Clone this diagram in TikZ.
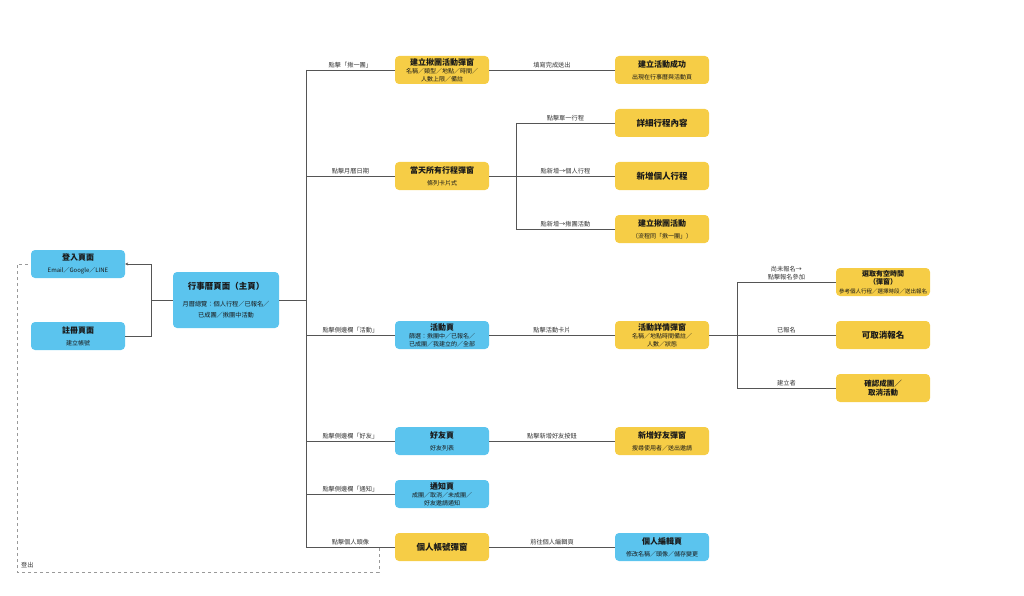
\documentclass[tikz,border=0pt]{standalone}
\usepackage{fontspec}
\setmainfont{Noto Sans CJK TC}
\usepackage{tikz}
\usetikzlibrary{
  arrows.meta,
}
\definecolor{skyb}{HTML}{5BC4EE}
\definecolor{sunny}{HTML}{F6CD46}
\definecolor{wire}{HTML}{555555}
\newcommand\ttl[2]{{\fontsize{8}{9}\selectfont\bfseries #1}\\[4pt]#2}
\newcommand\ttll[2]{{\fontsize{8}{9}\selectfont\bfseries #1}\\[0pt]#2}

\begin{document}
\begin{tikzpicture}[x=1pt, y=-1pt,
  card/.style={rounded corners=4pt, minimum width=94pt, minimum height=28pt,
    align=center, inner sep=1pt, text=black!90,
    font=\fontsize{6}{8}\selectfont},
  blue/.style={card, fill=skyb},
  yellow/.style={card, fill=sunny},
  link/.style={draw=wire, line width=0.8pt},
  lbl/.style={above, inner sep=2pt, text=black!80, align=center,
    font=\fontsize{6.2}{7.5}\selectfont},
  logout/.style={draw=black!40, line width=0.8pt, dash pattern=on 3pt off 3pt},
]
\useasboundingbox (0,0) rectangle (1024,596);

% left side
\node[blue] (login) at (78,264) {\ttl{登入頁面}{Email／Google／LINE}};
\node[blue] (signup) at (78,336) {\ttl{註冊頁面}{建立帳號}};
\node[blue, minimum width=106pt, minimum height=56pt, font=\fontsize{6.2}{11}\selectfont] (main) at (226,300)
  {{\fontsize{8.5}{10}\selectfont\bfseries 行事曆頁面（主頁）}\\[6pt]
   月曆總覽：個人行程／已報名／\\已成團／揪團中活動};

% first column
\node[yellow] (create) at (442,70) {\ttll{建立揪團活動彈窗}{名稱／類型／地點／時間／\\人數上限／備註}};
\node[yellow] (day) at (442,176) {\ttl{當天所有行程彈窗}{條列卡片式}};
\node[blue] (act) at (442,335) {\ttll{活動頁}{篩選：揪團中／已報名／\\已成團／我建立的／全部}};
\node[blue] (fri) at (442,441) {\ttl{好友頁}{好友列表}};
\node[blue] (note) at (442,494) {\ttll{通知頁}{成團／取消／未成團／\\好友邀請通知}};
\node[yellow] (acct) at (442,547) {{\fontsize{8.5}{10}\selectfont\bfseries 個人帳號彈窗}};

% second column
\node[yellow] (done) at (662,70) {\ttl{建立活動成功}{出現在行事曆與活動頁}};
\node[yellow] (detail) at (662,123) {{\fontsize{8.5}{10}\selectfont\bfseries 詳細行程內容}};
\node[yellow] (own) at (662,176) {{\fontsize{8.5}{10}\selectfont\bfseries 新增個人行程}};
\node[yellow] (group) at (662,229) {\ttl{建立揪團活動}{（流程同「揪一團」）}};
\node[yellow] (info) at (662,335) {\ttll{活動詳情彈窗}{名稱／地點時間備註／\\人數／狀態}};
\node[yellow] (addfri) at (662,441) {\ttl{新增好友彈窗}{搜尋使用者／送出邀請}};
\node[blue] (edit) at (662,547) {\ttl{個人編輯頁}{修改名稱／頭像／儲存變更}};

% third column
\node[yellow, font=\fontsize{7}{8.5}\selectfont\bfseries] (pick) at (883,282)
  {選取有空時間\\（彈窗）\\{\fontsize{5.5}{6.5}\selectfont\mdseries 參考個人行程／選擇時段／送出報名}};
\node[yellow] (cancel) at (883,335) {{\fontsize{8.5}{10}\selectfont\bfseries 可取消報名}};
\node[yellow, font=\fontsize{7.5}{9.5}\selectfont\bfseries] (confirm) at (883,388) {確認成團／\\取消活動};

% main <-> login / signup
\coordinate (jl) at (151,300);
\draw[link] (main.west) -- (jl);
\draw[link, -{Stealth[length=3pt, width=3pt]}] (jl) |- (login.east);
\draw[link] (jl) |- (signup.east);

% main trunk
\coordinate (trunk) at (306,300);
\draw[link] (main.east) -- (trunk);
\draw[link] (trunk |- create.west) -- (trunk |- acct.west);
\foreach \n/\t in {create/點擊「揪一團」, day/點擊月曆日期, act/點擊側邊欄「活動」,
                   fri/點擊側邊欄「好友」, note/點擊側邊欄「通知」, acct/點擊個人頭像} {
  \draw[link] (trunk |- \n.west) -- node[lbl] {\t} (\n.west);
}

% straight links
\draw[link] (create.east) -- node[lbl] {填寫完成送出} (done.west);
\draw[link] (act.east) -- node[lbl] {點擊活動卡片} (info.west);
\draw[link] (fri.east) -- node[lbl] {點擊新增好友按鈕} (addfri.west);
\draw[link] (acct.east) -- node[lbl] {前往個人編輯頁} (edit.west);

% day popup branches
\coordinate (dtrunk) at (516,176);
\draw[link] (day.east) -- (dtrunk);
\draw[link] (dtrunk |- detail.west) -- (dtrunk |- group.west);
\foreach \n/\t in {detail/點擊單一行程, own/點新增→個人行程, group/點新增→揪團活動} {
  \draw[link] (dtrunk |- \n.west) -- node[lbl] {\t} (\n.west);
}

% activity detail branches
\coordinate (itrunk) at (737,335);
\draw[link] (info.east) -- (itrunk);
\draw[link] (itrunk |- pick.west) -- (itrunk |- confirm.west);
\foreach \n/\t in {pick/尚未報名→\\點擊報名參加, cancel/已報名, confirm/建立者} {
  \draw[link] (itrunk |- \n.west) -- node[lbl] {\t} (\n.west);
}

% logout
\coordinate (lo) at (379,548);
\coordinate (lc) at (17,572);
\draw[logout] (lo) |- (lc) |- (login.west);
\node[lbl, anchor=south west, inner sep=1pt] (out) at (20,569) {登出};
\end{tikzpicture}
\end{document}
